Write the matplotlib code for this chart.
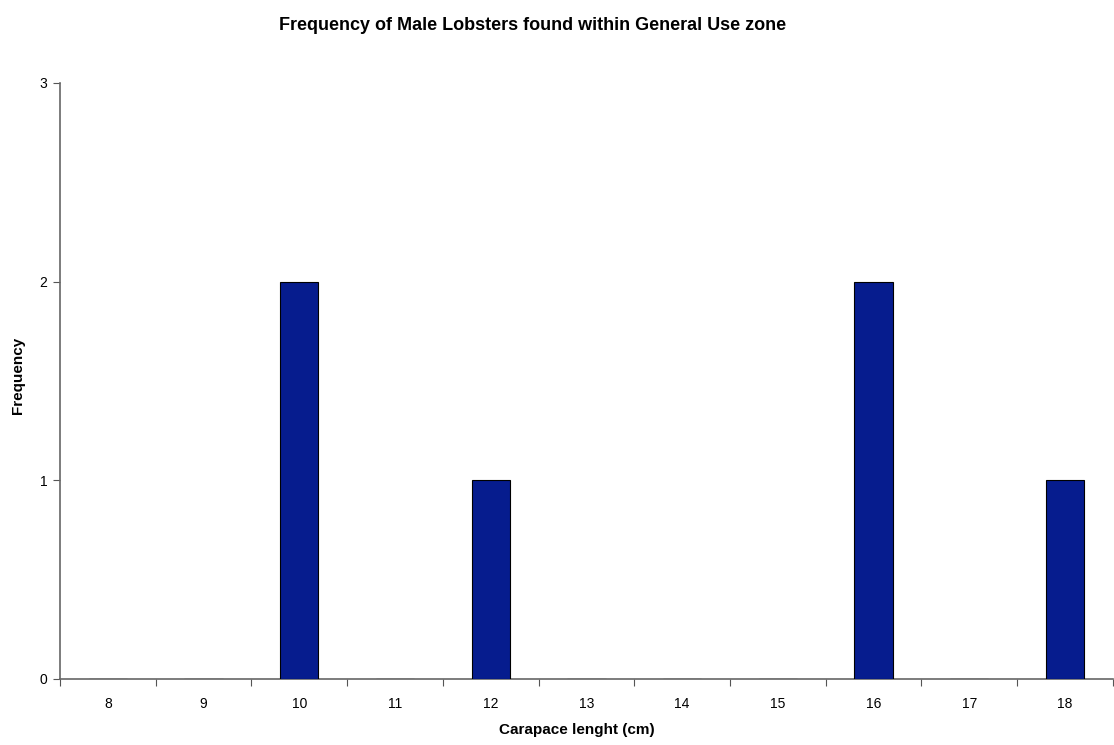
import numpy as np
import matplotlib.pyplot as plt

plt.rcParams['font.family'] = ['Liberation Sans', 'DejaVu Sans']

# carapace length classes and counts
lengths = ['8', '9', '10', '11', '12', '13', '14', '15', '16', '17', '18']
counts = [0, 0, 2, 0, 1, 0, 0, 0, 2, 0, 1]

fig = plt.figure(figsize=(11.14, 7.45), dpi=100)
ax = fig.add_axes([0.0539, 0.0886, 0.9451, 0.80])

x = np.arange(len(lengths))
ax.bar(x, counts, width=0.4, color='#061c8e', edgecolor='black', linewidth=0.8, zorder=3)

ax.set_xlim(-0.5, len(lengths) - 0.5)
ax.set_ylim(0, 3)
ax.set_yticks([0, 1, 2, 3])

# tick marks between categories, labels at the centres
ax.set_xticks(np.arange(-0.5, len(lengths), 1.0))
ax.set_xticklabels([])
ax.set_xticks(x, minor=True)
ax.set_xticklabels(lengths, minor=True)
ax.tick_params(axis='x', which='minor', length=0, pad=13, labelsize=10)
ax.tick_params(axis='x', which='major', length=5, color='#555555')
ax.tick_params(axis='y', length=5, color='#555555', labelsize=10, pad=4)

for side in ['top', 'right']:
    ax.spines[side].set_visible(False)
for side in ['left', 'bottom']:
    ax.spines[side].set_color('#666666')
    ax.spines[side].set_linewidth(1.2)

ax.set_xlabel('Carapace lenght (cm)', fontweight='bold', fontsize=11, va='center')
ax.xaxis.set_label_coords(0.491, -0.0856)
ax.set_ylabel('Frequency', fontweight='bold', fontsize=11, va='center')
ax.yaxis.set_label_coords(-0.0399, 0.51)
fig.text(0.4785, 0.966, 'Frequency of Male Lobsters found within General Use zone',
         fontweight='bold', fontsize=13, ha='center', va='center')

fig.savefig('out.png', dpi=100)
